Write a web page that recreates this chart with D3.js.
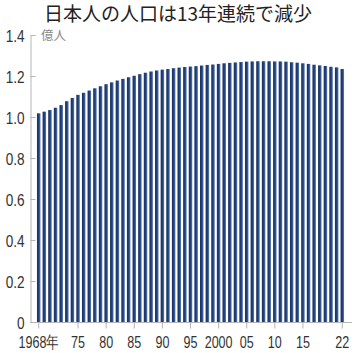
<!DOCTYPE html>
<html>
<head>
<meta charset="utf-8">
<script src="https://cdn.jsdelivr.net/npm/d3@7"></script>
<style>
  html, body { margin: 0; padding: 0; background: #fff; }
  svg { display: block; }
  .num { font-family: "Liberation Sans", Arial, sans-serif; font-size: 17px; fill: #333; }
</style>
</head>
<body>
<div id="chart"></div>
<script>
const years = d3.range(1968, 2023);
// 人口（億人）
const population = [
  1.018, 1.026, 1.034, 1.045, 1.058, 1.077, 1.093, 1.108, 1.118, 1.129,
  1.140, 1.150, 1.160, 1.169, 1.178, 1.186, 1.194, 1.201, 1.209, 1.216,
  1.222, 1.227, 1.231, 1.234, 1.238, 1.241, 1.244, 1.246, 1.248, 1.251,
  1.254, 1.256, 1.259, 1.262, 1.264, 1.266, 1.268, 1.270, 1.271, 1.272,
  1.272, 1.272, 1.271, 1.271, 1.270, 1.267, 1.265, 1.262, 1.259, 1.255,
  1.252, 1.249, 1.245, 1.242, 1.234
];
const yTicks = [0, 0.2, 0.4, 0.6, 0.8, 1.0, 1.2, 1.4];
const xTicks = [1968, 1975, 1980, 1985, 1990, 1995, 2000, 2005, 2010, 2015, 2022];
const title = '日本人の人口は13年連続で減少';
const unit = '億人';

const width = 360;
const height = 353;
const margin = {top: 35, right: 15, bottom: 31, left: 30};

const data = years.map((y, i) => ({year: y, value: population[i]}));

const svg = d3.select('#chart').append('svg')
  .attr('width', width)
  .attr('height', height);

const grad = svg.append('defs')
  .append('linearGradient')
  .attr('id', 'barGrad')
  .attr('x1', '0%').attr('x2', '100%')
  .attr('y1', '0%').attr('y2', '0%');
grad.append('stop').attr('offset', '0%').attr('stop-color', '#1a3064');
grad.append('stop').attr('offset', '55%').attr('stop-color', '#23427c');
grad.append('stop').attr('offset', '100%').attr('stop-color', '#5d80b6');

const y = d3.scaleLinear()
  .domain([0, 1.4])
  .range([height - margin.bottom, margin.top]);

const x = d3.scaleBand()
  .domain(years)
  .range([35.9, 345.1])
  .paddingInner(0.38)
  .paddingOuter(0.19);

// bars
svg.append('g')
  .selectAll('rect')
  .data(data)
  .enter().append('rect')
  .attr('x', (d) => x(d.year))
  .attr('y', (d) => y(d.value))
  .attr('width', x.bandwidth())
  .attr('height', (d) => y(0) - y(d.value))
  .attr('fill', 'url(#barGrad)');

// y axis
const yAxis = d3.axisLeft(y)
  .tickValues(yTicks)
  .tickSizeInner(-5)
  .tickSizeOuter(0)
  .tickPadding(6)
  .tickFormat((d) => d === 0 ? '0' : d3.format('.1f')(d));

const gy = svg.append('g')
  .attr('transform', 'translate(' + (margin.left + 0.5) + ',0)')
  .call(yAxis);
gy.select('.domain').attr('stroke', '#b5b5b5');
gy.selectAll('.tick line').attr('stroke', '#b5b5b5');
gy.selectAll('.tick text')
  .attr('class', 'num')
  .attr('font-family', null)
  .attr('font-size', null)
  .attr('fill', null)
  .attr('x', -7.5)
  .attr('transform', 'scale(0.8,1)')
  .attr('dy', '0.36em');

// x axis
const xAxis = d3.axisBottom(x)
  .tickValues(xTicks)
  .tickSizeInner(6)
  .tickSizeOuter(0)
  .tickPadding(7)
  .tickFormat((d) => d === 1968 ? '1968年' : d === 2000 ? '2000' : String(d).slice(2));

const gx = svg.append('g')
  .attr('transform', 'translate(0,' + (height - margin.bottom + 0.5) + ')')
  .call(xAxis);
gx.select('.domain').remove();
gx.selectAll('.tick line').attr('stroke', '#b5b5b5');
gx.selectAll('.tick text')
  .attr('class', 'num')
  .attr('font-family', null)
  .attr('font-size', null)
  .attr('fill', null)
  .attr('transform', 'scale(0.74,1)');

gx.append('line')
  .attr('x1', margin.left)
  .attr('x2', width - 8)
  .attr('y1', 0)
  .attr('y2', 0)
  .attr('stroke', '#b5b5b5');

// unit label
svg.append('text')
  .attr('x', 41)
  .attr('y', y(1.4))
  .attr('dy', '0.36em')
  .attr('font-family', '"Noto Sans CJK JP", sans-serif')
  .attr('font-size', 12.5)
  .attr('fill', '#8a8a8a')
  .text(unit);

// title
svg.append('text')
  .attr('x', 178)
  .attr('y', 21)
  .attr('text-anchor', 'middle')
  .attr('font-family', '"Noto Sans CJK JP", sans-serif')
  .attr('font-size', 19)
  .attr('fill', '#222')
  .text(title);
</script>
</body>
</html>
